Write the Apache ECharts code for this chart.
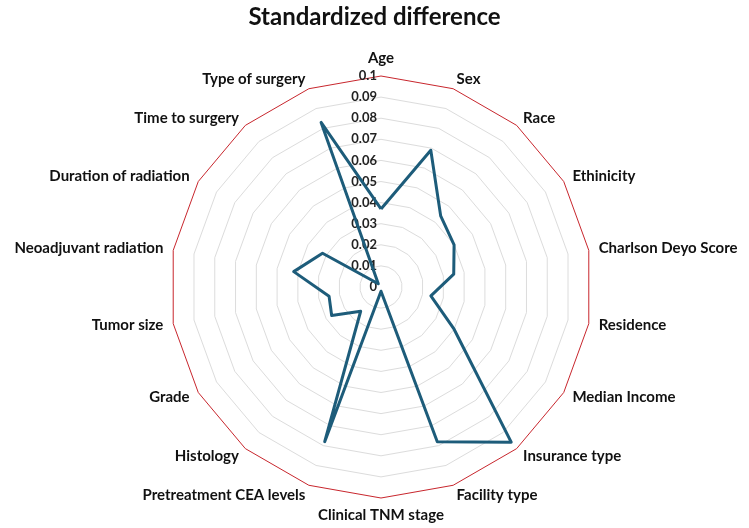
<!DOCTYPE html>
<html>
<head>
<meta charset="utf-8">
<script src="https://cdn.jsdelivr.net/npm/echarts@6/dist/echarts.min.js"></script>
<style>
  html, body { margin: 0; padding: 0; background: #fff; }
  #main { width: 749px; height: 528px; }
</style>
</head>
<body>
<div id="main"></div>
<script>
// categories in clockwise order starting from the top
const categories = [
  'Age', 'Sex', 'Race', 'Ethinicity', 'Charlson Deyo Score', 'Residence',
  'Median Income', 'Insurance type', 'Facility type', 'Clinical TNM stage',
  'Pretreatment CEA levels', 'Histology', 'Grade', 'Tumor size',
  'Neoadjuvant radiation', 'Duration of radiation', 'Time to surgery', 'Type of surgery'
]
const values = [
  0.037, 0.069, 0.044, 0.040, 0.035, 0.024,
  0.040, 0.096, 0.078, 0.002,
  0.078, 0.015, 0.027, 0.025,
  0.042, 0.032, 0.002, 0.083
]
const axisMax = 0.1

// echarts lays radar indicators out counter-clockwise, so flip all but the first
function clockwise(list) {
  return [list[0]].concat(list.slice(1).reverse())
}

const indicators = clockwise(categories).map(function(name, i) {
  const ind = { name: name, min: 0, max: axisMax }
  if (i === 0) {
    ind.axisLabel = { show: true }
  }
  return ind
})

// first entry is the centre, last one the outer ring
const ringColors = []
for (let i = 0; i < 10; i++) ringColors.push('#dcdcdc')
ringColors.push('#c8262d')

const chart = echarts.init(document.getElementById('main'))
chart.setOption({
  backgroundColor: '#fff',
  title: {
    text: 'Standardized difference',
    left: 'center',
    top: 0,
    textStyle: { fontFamily: 'Lato', fontSize: 24, fontWeight: 'bold', color: '#111' }
  },
  radar: {
    center: [381, 287],
    radius: 211,
    startAngle: 90,
    shape: 'polygon',
    splitNumber: 10,
    indicator: indicators,
    axisName: {
      color: '#111',
      fontFamily: 'Lato',
      fontSize: 15,
      fontWeight: 'bold'
    },
    nameGap: 10,
    axisLine: { show: false },
    axisTick: { show: false },
    axisLabel: {
      show: false,
      color: '#222',
      fontFamily: 'Lato',
      fontSize: 13,
      fontWeight: 'bold',
      margin: 4
    },
    splitLine: { lineStyle: { color: ringColors, width: 1 } },
    splitArea: { show: false }
  },
  series: [{
    type: 'radar',
    symbol: 'none',
    lineStyle: { color: '#1d5c7a', width: 3 },
    data: [{ value: clockwise(values), name: 'Standardized difference' }]
  }]
})
</script>
</body>
</html>
